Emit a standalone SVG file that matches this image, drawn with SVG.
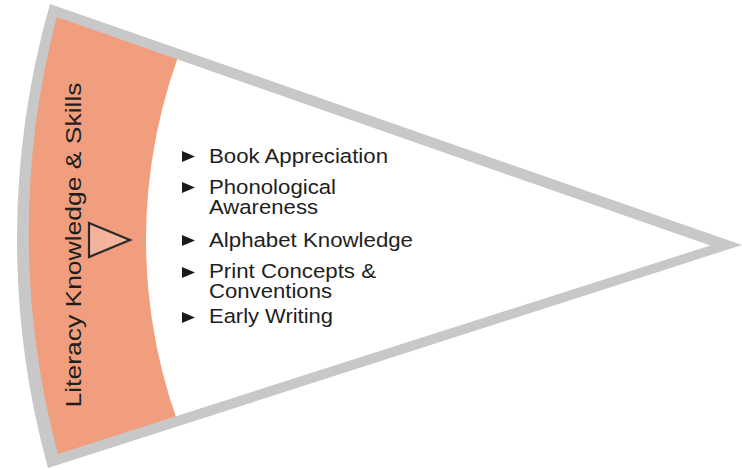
<svg xmlns="http://www.w3.org/2000/svg" width="742" height="470" viewBox="0 0 742 470">
  <style>
    .item { font-family: "Liberation Sans", Arial, sans-serif; font-size: 20.5px; fill: #1e1e1e; }
    .label { font-family: "Liberation Sans", Arial, sans-serif; font-size: 22px; fill: #1e1e1e; }
    .bullet { fill: #1a1a1a; }
  </style>
  <defs>
    <clipPath id="innerClip">
      <path d="M 56.8,17 L 710.5,245.5 L 58,454 A 847 847 0 0 1 56.8,17 Z"/>
    </clipPath>
  </defs>
  <rect width="742" height="470" fill="#ffffff"/>
  <g id="wedge">
    <path d="M 50,4 L 742,245 L 48,468 A 857 857 0 0 1 50,4 Z" fill="#c8c8c9"/>
    <path d="M 56.8,17 L 710.5,245.5 L 58,454 A 847 847 0 0 1 56.8,17 Z" fill="#f09e7e"/>
    <circle cx="684" cy="240" r="538" fill="#ffffff" clip-path="url(#innerClip)"/>
  </g>
  <g id="band-label">
    <text class="label" x="0" y="0" text-anchor="middle" textLength="325" lengthAdjust="spacingAndGlyphs" transform="translate(81,245) rotate(-90)">Literacy Knowledge &amp; Skills</text>
    <polygon points="89,223 130,240 89,257" fill="#f4b39a" stroke="#2a2a2a" stroke-width="2.2" stroke-linejoin="miter"/>
  </g>
  <g id="list">
    <polygon class="bullet" points="182,151 195,156.5 182,162"/>
    <text class="item" x="209" y="162.5" textLength="179" lengthAdjust="spacingAndGlyphs">Book Appreciation</text>
    <polygon class="bullet" points="182,182 195,187.5 182,193"/>
    <text class="item" x="209" y="194" textLength="127" lengthAdjust="spacingAndGlyphs">Phonological</text>
    <text class="item" x="209" y="213.5" textLength="109" lengthAdjust="spacingAndGlyphs">Awareness</text>
    <polygon class="bullet" points="182,235 195,240.5 182,246"/>
    <text class="item" x="209" y="246.5" textLength="204" lengthAdjust="spacingAndGlyphs">Alphabet Knowledge</text>
    <polygon class="bullet" points="182,267 195,272.5 182,278"/>
    <text class="item" x="209" y="278" textLength="167" lengthAdjust="spacingAndGlyphs">Print Concepts &amp;</text>
    <text class="item" x="209" y="297.5" textLength="123" lengthAdjust="spacingAndGlyphs">Conventions</text>
    <polygon class="bullet" points="182,312 195,317.5 182,323"/>
    <text class="item" x="209" y="322.5" textLength="124" lengthAdjust="spacingAndGlyphs">Early Writing</text>
  </g>
</svg>
